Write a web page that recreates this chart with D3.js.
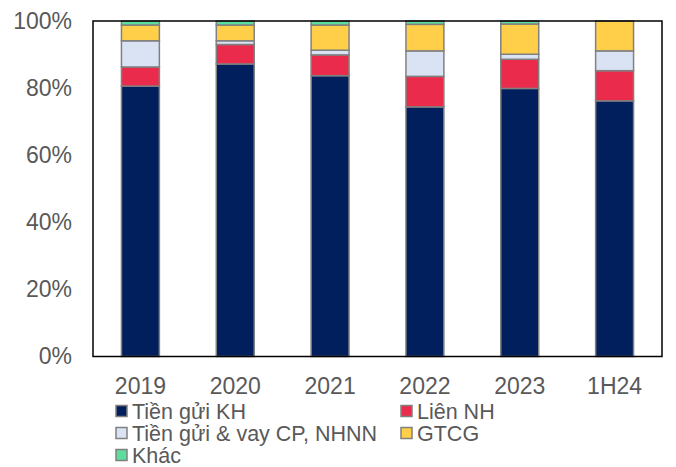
<!DOCTYPE html>
<html>
<head>
<meta charset="utf-8">
<script src="https://cdn.jsdelivr.net/npm/d3@7"></script>
<style>
  body { margin: 0; background: #fff; }
  text { font-family: "Liberation Sans", Arial, sans-serif; }
</style>
</head>
<body>
<div id="chart"></div>
<script>
// data (percent of total)
var years = ["2019", "2020", "2021", "2022", "2023", "1H24"];
var seriesNames = ["Tiền gửi KH", "Liên NH", "Tiền gửi & vay CP, NHNN", "GTCG", "Khác"];
var seriesColors = ["#001F5C", "#EA2B4B", "#DAE3F3", "#FFCF4A", "#5BDD9E"];
var tienGuiKH = [80.6, 87.2, 83.7, 74.4, 79.9, 76.2];
var lienNH = [5.7, 5.8, 6.2, 9.1, 8.7, 9.0];
var vayCP = [7.8, 1.1, 1.4, 7.6, 1.5, 5.9];
var gtcg = [4.7, 4.7, 7.5, 7.9, 9.0, 8.9];
var khac = [1.2, 1.2, 1.2, 1.0, 0.9, 0.0];
var yTicks = [0, 20, 40, 60, 80, 100];

var margin = { top: 21, left: 93, right: 14, bottom: 110.5 },
  width = 676 - margin.left - margin.right,
  height = 467 - margin.top - margin.bottom;

var svg = d3.select("#chart")
  .append("svg")
  .attr("width", 676)
  .attr("height", 467);

var g = svg.append("g")
  .attr("transform", "translate(" + margin.left + "," + margin.top + ")");

var rows = years.map(function(y, i) {
  return { year: y, s0: tienGuiKH[i], s1: lienNH[i], s2: vayCP[i], s3: gtcg[i], s4: khac[i] };
});
var keys = ["s0", "s1", "s2", "s3", "s4"];
var stacked = d3.stack().keys(keys)(rows);

var xScale = d3.scaleBand()
  .domain(years)
  .range([0, width])
  .paddingInner(0.6)
  .paddingOuter(0.3);

var yScale = d3.scaleLinear()
  .domain([0, 100])
  .range([height, 0]);

// bars
g.selectAll(".layer")
  .data(stacked)
  .enter()
  .append("g")
  .attr("class", "layer")
  .attr("fill", (d, i) => seriesColors[i])
  .selectAll("rect")
  .data(d => d)
  .enter()
  .append("rect")
  .attr("x", d => xScale(d.data.year))
  .attr("y", d => yScale(d[1]))
  .attr("width", xScale.bandwidth())
  .attr("height", d => yScale(d[0]) - yScale(d[1]))
  .attr("stroke", "#808080")
  .attr("stroke-width", 1.5);

// frame
g.append("rect")
  .attr("x", 0).attr("y", 0)
  .attr("width", width).attr("height", height)
  .attr("fill", "none")
  .attr("stroke", "#000")
  .attr("stroke-width", 1.5);

// y axis
var yAxis = g.append("g")
  .call(d3.axisLeft(yScale).tickValues(yTicks).tickFormat(d => d + "%").tickSize(0).tickPadding(21));
yAxis.select(".domain").remove();
yAxis.selectAll("text")
  .attr("font-size", 23)
  .attr("fill", "#595959");

// x axis
var xAxis = g.append("g")
  .attr("transform", "translate(0," + height + ")")
  .call(d3.axisBottom(xScale).tickSize(0).tickPadding(21));
xAxis.select(".domain").remove();
xAxis.selectAll("text")
  .attr("font-size", 23)
  .attr("fill", "#595959");

// legend
var legendPos = [[116, 411], [401, 411], [116, 433], [401, 433], [116, 455]];
var legend = svg.selectAll(".legend")
  .data(seriesNames)
  .enter()
  .append("g")
  .attr("class", "legend")
  .attr("transform", (d, i) => "translate(" + legendPos[i][0] + "," + legendPos[i][1] + ")");

legend.append("rect")
  .attr("x", 0).attr("y", -5.5)
  .attr("width", 11).attr("height", 11)
  .attr("fill", (d, i) => seriesColors[i])
  .attr("stroke", "#808080")
  .attr("stroke-width", 1.5);

legend.append("text")
  .attr("x", 16)
  .attr("y", 0)
  .attr("dy", "0.35em")
  .attr("font-size", 21.5)
  .attr("fill", "#595959")
  .text(d => d);
</script>
</body>
</html>
